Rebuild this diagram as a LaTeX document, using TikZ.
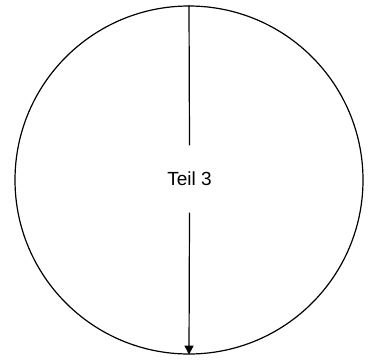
\documentclass[tikz,border=0pt]{standalone}
\usepackage{fontspec}
\setmainfont{Liberation Sans}
\usetikzlibrary{arrows.meta}
\begin{document}
\begin{tikzpicture}[x=1pt,y=-1pt,
  line/.style={line width=1.2pt, draw=black},
  lbl/.style={font=\fontsize{19}{22}\selectfont, inner sep=0pt, minimum height=67pt, minimum width=50pt}]
\useasboundingbox (0,0) rectangle (371,359);
\node[line, circle, minimum size=348pt, inner sep=0pt] (c) at (189,180) {};
\node[lbl] (t) at (189.5,179) {Teil 3};
\draw[line] (c.north) -- (t.north);
\draw[line, -{Triangle[length=9pt,width=9pt]}] (t.south) -- (c.south);
\end{tikzpicture}
\end{document}
